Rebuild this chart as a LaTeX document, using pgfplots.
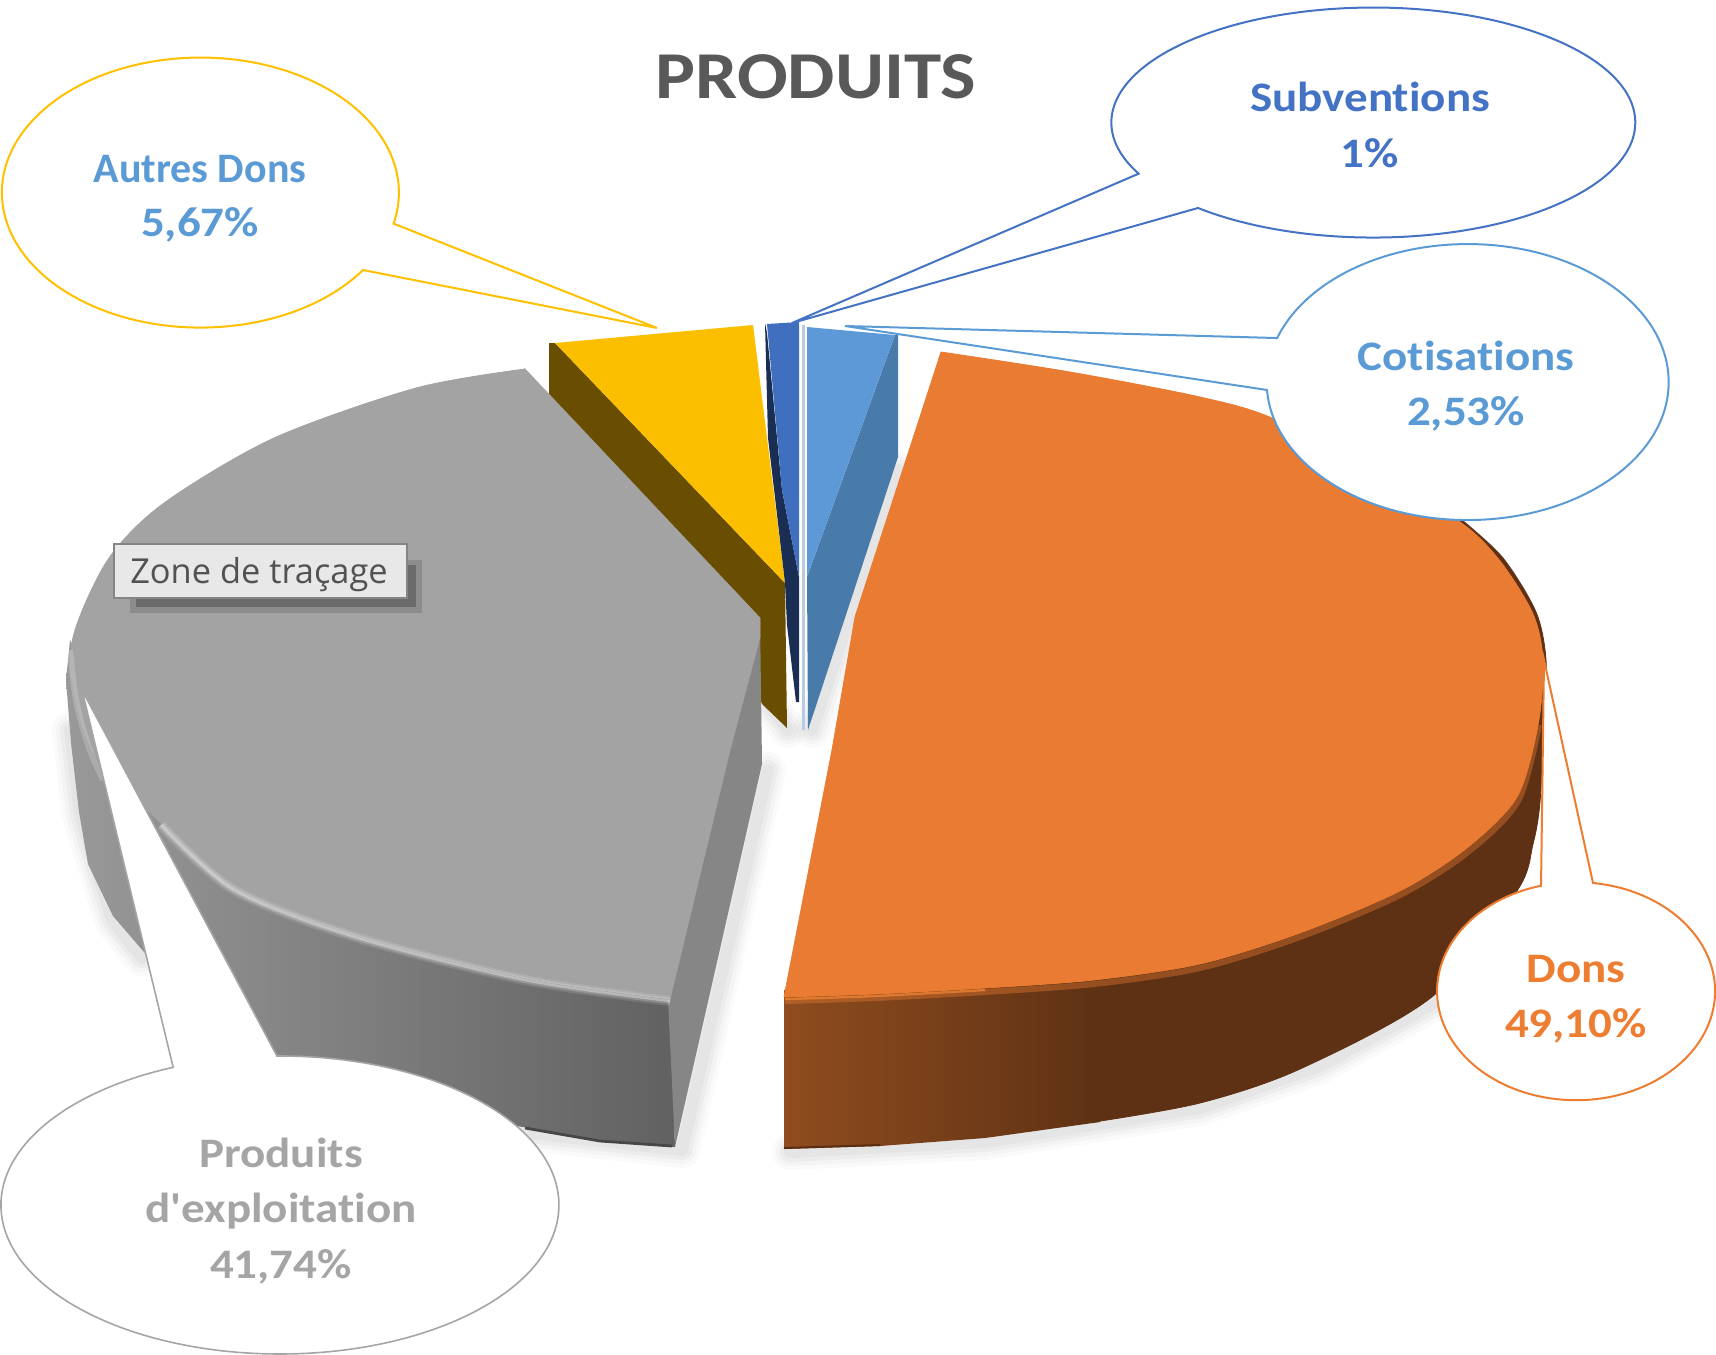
\documentclass[border=0pt]{standalone}
\usepackage{fontspec}
\setmainfont[FakeStretch=1.12,Ligatures={NoCommon,TeXOff}]{Carlito}
\newfontfamily\plainf[Ligatures={NoCommon,TeXOff}]{Carlito}
\newfontfamily\tipfont{Open Sans}
\usepackage{pgfplots}
\pgfplotsset{compat=1.18}
\definecolor{cY}{HTML}{FFC000}
\definecolor{cB}{HTML}{4472C4}
\definecolor{cL}{HTML}{5B9BD5}
\definecolor{cO}{HTML}{ED7D31}
\definecolor{cG}{HTML}{A5A5A5}
\definecolor{yTop}{RGB}{251,191,0}
\definecolor{ySide}{RGB}{105,77,0}
\definecolor{bTop}{RGB}{65,111,191}
\definecolor{bSide}{RGB}{26,46,84}
\definecolor{lTop}{RGB}{92,153,214}
\definecolor{lSide}{RGB}{72,123,170}
\definecolor{lEdge}{RGB}{184,203,226}
\definecolor{gTop}{RGB}{163,163,163}
\definecolor{gFace}{RGB}{134,134,134}
\definecolor{gA}{RGB}{153,153,153}
\definecolor{gB}{RGB}{97,97,97}
\definecolor{oTop}{RGB}{233,123,50}
\definecolor{oBright}{RGB}{245,134,54}
\definecolor{oA}{RGB}{143,76,30}
\definecolor{oB}{RGB}{94,49,20}
\definecolor{oC}{RGB}{90,45,18}
\definecolor{tipE}{RGB}{133,133,133}
\definecolor{tipF}{RGB}{232,232,232}
\newcommand{\lab}[4]{\node[anchor=base,text=#4,font=\fontsize{#3}{#3}\selectfont\bfseries,inner sep=0pt] at (axis cs:#1) {#2};}
\newcommand{\shadowline}[1]{%
  \addplot[black,opacity=.02,line width=18pt,line cap=round,line join=round] coordinates {#1};
  \addplot[black,opacity=.025,line width=14pt,line cap=round,line join=round] coordinates {#1};
  \addplot[black,opacity=.03,line width=10pt,line cap=round,line join=round] coordinates {#1};
  \addplot[black,opacity=.03,line width=6pt,line cap=round,line join=round] coordinates {#1};
}
\begin{document}
\begin{tikzpicture}
\begin{axis}[scale only axis,width=858pt,height=677pt,xmin=0,xmax=1716,ymin=0,ymax=1354,y dir=reverse,hide axis,clip=true]
% soft shadows
\shadowline{(768,770)(682,1150)(520,1132)}
\shadowline{(70,730)(80,815)(112,920)(142,958)}
\shadowline{(790,1152)(985,1142)(1200,1108)(1320,1066)(1440,1000)}
\shadowline{(898,470)(812,730)}
\shadowline{(768,704)(788,730)}
% autres dons
\addplot[draw=none,fill=ySide] coordinates {(549,343)(555,343)(785,583)(787,728)(762,704)(740,640)(549,395)} -- cycle;
\addplot[draw=none,fill=yTop] coordinates {(555,343)(753,325)(785,583)} -- cycle;
% subventions
\addplot[draw=none,fill=bSide] coordinates {(765,323)(768,438)(785,583)(787,625)(796,702)(799,702)(799,577)(782,490)(767,333)} -- cycle;
\addplot[draw=none,fill=bTop] coordinates {(767,324)(799,322)(799,577)(782,490)} -- cycle;
% cotisations
\addplot[draw=none,fill=lEdge] coordinates {(802,325)(805,325)(805,730)(802,730)} -- cycle;
\addplot[draw=none,fill=lSide] coordinates {(807,577)(895,335)(898,335)(898,457)(808,730)} -- cycle;
\addplot[draw=none,fill=lTop] coordinates {(807,327)(895,335)(807,577)} -- cycle;
% produits d'exploitation: side
\addplot[draw=none,left color=gA,right color=gB] coordinates {(70,640)(66,680)(71,743)(79,812)(88,864)(113,916)(144,952)(200,1000)(277,1055)(517,1126)(600,1140)(675,1147)(670,990)(160,800)} -- cycle;
\addplot[black!72,line width=1.4pt] coordinates {(525,1128)(600,1141)(672,1146)};
\addplot[draw=none,fill=gFace] coordinates {(760,618)(762,764)(675,1147)(668,999)(730,750)} -- cycle;
% produits d'exploitation: top
\addplot[smooth,draw=gTop,line width=.4pt,fill=gTop] coordinates {(525,369)(416,388)(274,438)(164,503)(109,558)(75,630)(72,680)(95,755)(161,823)(234,888)(355,935)(525,978)(670,999)};
\addplot[draw=gTop,line width=.4pt,fill=gTop] coordinates {(525,369)(760,618)(760,637)(730,750)(670,999)} -- cycle;
\addplot[smooth,white,opacity=.12,line width=5pt] coordinates {(161,825)(234,890)(355,937)(525,980)(670,1001)};
\addplot[smooth,white,opacity=.2,line width=3pt] coordinates {(161,825)(234,890)(355,937)(525,980)(670,1001)};
\addplot[smooth,white,opacity=.35,line width=1.2pt] coordinates {(161,825)(234,890)(355,937)(525,980)(670,1001)};
\addplot[smooth,white,opacity=.2,line width=3pt] coordinates {(70,650)(76,700)(88,745)(103,780)};
% dons: side
\addplot[smooth,draw=oB,line width=.4pt,fill=oB] coordinates {(1462,520)(1503,558)(1536,612)(1546,660)(1544,720)(1540,802)(1533,844)(1517,891)(1433,996)(1300,1069)(1200,1103)(1094,1122)};
\addplot[draw=oB,line width=.4pt,fill=oB] coordinates {(1094,1122)(1094,950)(1462,520)} -- cycle;
\addplot[draw=none,left color=oA,right color=oB] coordinates {(784,990)(1100,950)(1100,1122)(985,1138)(880,1146)(784,1149)} -- cycle;
\addplot[oC,line width=1pt] coordinates {(784,1148)(880,1145)};
% dons: top
\addplot[smooth,draw=oTop,line width=.4pt,fill=oTop] coordinates {(941,352)(1070,372)(1200,397)(1272,418)(1370,470)(1460,522)(1500,561)(1533,614)(1543,661)(1538,725)(1517,797)(1467,848)(1400,891)(1300,933)(1200,964)(1094,980)(985,988)(875,994)(784,997)};
\addplot[draw=oTop,line width=.4pt,fill=oTop] coordinates {(941,352)(855,617)(832,750)(784,997)} -- cycle;
\addplot[smooth,oTop,opacity=.4,line width=3pt] coordinates {(1539,725)(1518,801)(1468,852)(1400,895)(1300,937)(1200,968)(1094,984)(985,992)(875,998)(785,1001)};
\addplot[smooth,oBright,opacity=.7,line width=1.2pt] coordinates {(785,999)(875,996)(985,990)};
% callouts
\draw[cY,fill=white,line width=1pt,line join=miter] (axis cs:363,270) arc[start angle=-35,end angle=-373.3,x radius=99.25pt,y radius=67.5pt] -- (axis cs:657,328) -- cycle;
\draw[cB,fill=white,line width=1pt,line join=miter] (axis cs:1198,208) arc[start angle=228,end angle=566.4,x radius=131pt,y radius=57.5pt] -- (axis cs:792,323) -- cycle;
\draw[cL,fill=white,line width=1pt,line join=miter] (axis cs:1267,390) arc[start angle=183.3,end angle=521.4,x radius=100.5pt,y radius=69pt] -- (axis cs:845,326) -- cycle;
\draw[cO,fill=white,line width=1pt,line join=miter] (axis cs:1593,883) arc[start angle=83,end angle=-255.4,x radius=69.5pt,y radius=54.5pt] -- (axis cs:1544,660) -- cycle;
\draw[cG,fill=white,line width=.8pt,line join=miter] (axis cs:277,1056) arc[start angle=90.6,end angle=-247.5,x radius=139.5pt,y radius=74.5pt] -- (axis cs:82,690) -- cycle;
% texts
\lab{816,98}{PRODUITS}{33.5pt}{black!65}
\lab{1370,112}{Subventions}{21pt}{cB}
\lab{1370,167}{1\%}{21pt}{cB}
\lab{200,182}{\plainf Autres Dons}{21pt}{cL}
\lab{200,236}{5,67\%}{21pt}{cL}
\lab{1466,370}{Cotisations}{21pt}{cL}
\lab{1466,425}{2,53\%}{21pt}{cL}
\lab{1576,982}{Dons}{21pt}{cO}
\lab{1576,1037}{49,10\%}{21pt}{cO}
\lab{281,1167}{Produits}{21pt}{cG}
\lab{281,1222}{d'exploitation}{21pt}{cG}
\lab{281,1278}{41,74\%}{21pt}{cG}
% tooltip
\addplot[draw=none,fill=black!45] coordinates {(130,590)(422,590)(422,613)(130,613)} -- cycle;
\addplot[draw=none,fill=black!45] coordinates {(395,560)(422,560)(422,613)(395,613)} -- cycle;
\addplot[draw=none,fill=black!58] coordinates {(136,596)(416,596)(416,607)(136,607)} -- cycle;
\addplot[draw=none,fill=black!58] coordinates {(400,565)(416,565)(416,607)(400,607)} -- cycle;
\addplot[draw=tipE,line width=1.2pt,fill=tipF] coordinates {(114,544)(407,544)(407,598)(114,598)} -- cycle;
\node[anchor=base,text=black!68,font=\tipfont\fontsize{17.2pt}{17.2pt}\selectfont,inner sep=0pt] at (axis cs:259,583) {Zone de traçage};
\end{axis}
\end{tikzpicture}
\end{document}
